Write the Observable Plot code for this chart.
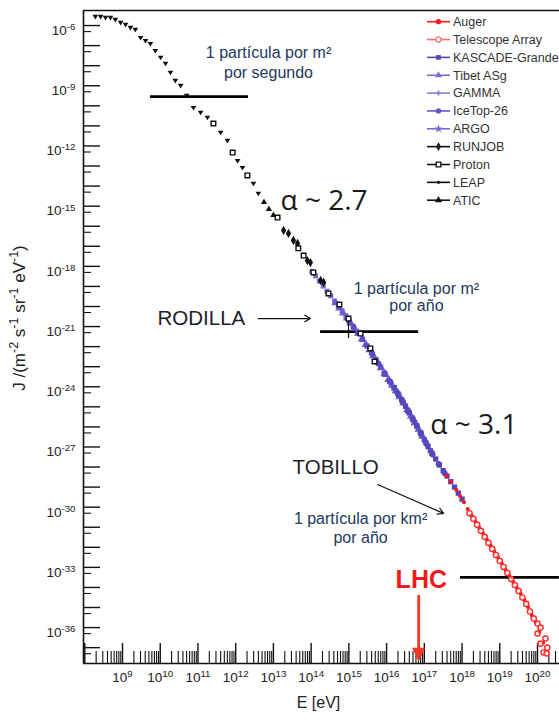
<!DOCTYPE html>
<html><head><meta charset="utf-8">
<script src="https://cdn.jsdelivr.net/npm/d3@7"></script>
<script src="https://cdn.jsdelivr.net/npm/@observablehq/plot@0.6"></script>
<style>
html,body{margin:0;padding:0;background:#fff;overflow:hidden}
#chart{position:relative;width:559px;height:721px}
svg{display:block}
</style></head><body><div id="chart"></div>
<script>
// ---- data (log10 of E [eV] and log10 of J) ----
const leapE = [8.28,8.42,8.55,8.68,8.81,8.95,9.08,9.21,9.34,9.48,9.61,9.74,9.87,10.01,10.14,10.27,10.40,10.54,10.70,10.88,11.07,11.25,11.41,11.60,11.78,11.92,12.05,12.18,12.31,12.47,12.60];
const leapJ = [-5.55,-5.55,-5.60,-5.60,-5.70,-5.85,-5.95,-6.10,-6.20,-6.60,-6.75,-6.90,-7.25,-7.59,-7.89,-8.34,-8.74,-8.99,-9.49,-10.09,-10.33,-10.58,-10.88,-11.33,-11.73,-12.33,-12.73,-13.08,-13.47,-13.87,-14.37];
const aticE = [12.75,12.88,13.00];
const aticJ = [-14.80,-15.15,-15.45];
const runjobE = [13.27,13.40,13.53,13.64,13.90,13.98,14.25,14.33];
const runjobJ = [-16.21,-16.36,-16.71,-16.86,-17.71,-17.81,-18.70,-18.80];
const protonE = [11.41,11.92,12.31,13.11,13.66,13.80,14.06,14.46,14.75,14.99,15.31,15.57,15.68];
const protonJ = [-10.88,-12.33,-13.47,-15.57,-17.10,-17.46,-18.30,-19.35,-19.90,-20.60,-21.35,-22.09,-22.74];
const protonErrE = [14.99];
const protonErrLo = [-21.60];
const protonErrHi = [-20.50];
const argoE = [14.02,14.12,14.22,14.32,14.42,14.52,14.62,14.72,14.82,14.92];
const argoJ = [-18.25,-18.48,-18.74,-18.98,-19.24,-19.47,-19.73,-19.98,-20.22,-20.47];
const tibetE = [14.65,14.75,14.85,14.95,15.05,15.15,15.25,15.35,15.45,15.55,15.65,15.75,15.85,15.95,16.05,16.15,16.25,16.35,16.45,16.55,16.65,16.75,16.85,16.95];
const tibetJ = [-19.82,-20.08,-20.33,-20.58,-20.83,-21.08,-21.33,-21.62,-21.89,-22.16,-22.45,-22.75,-23.05,-23.35,-23.64,-23.92,-24.20,-24.50,-24.81,-25.14,-25.46,-25.79,-26.12,-26.47];
const gammaE = [15.00,15.12,15.24,15.36,15.48,15.60,15.72,15.84,15.96,16.08,16.20,16.32,16.44,16.56,16.68,16.80,16.92,17.04,17.16];
const gammaJ = [-20.72,-21.02,-21.32,-21.64,-21.97,-22.30,-22.66,-23.02,-23.38,-23.73,-24.06,-24.42,-24.78,-25.17,-25.56,-25.95,-26.36,-26.77,-27.18];
const icetopE = [15.62,15.78,15.94,16.10,16.26,16.42,16.58,16.74,16.90,17.06,17.22,17.38,17.54];
const icetopJ = [-22.36,-22.84,-23.32,-23.78,-24.23,-24.71,-25.24,-25.76,-26.29,-26.85,-27.37,-27.85,-28.31];
const kascadeE = [16.20,16.30,16.40,16.50,16.60,16.70,16.80,16.90,17.00,17.10,17.20,17.30,17.40,17.50,17.60,17.70,17.80,17.90,18.00];
const kascadeJ = [-24.05,-24.35,-24.65,-24.97,-25.30,-25.63,-25.95,-26.30,-26.65,-26.98,-27.30,-27.60,-27.90,-28.18,-28.45,-28.73,-29.00,-29.30,-29.60];
const augerE = [17.60,17.70,17.85,17.95,18.05,18.15,18.25,18.35,18.45,18.55,18.65,18.75,18.85,18.95,19.05,19.15,19.25,19.35,19.45,19.55,19.65,19.75,19.85,19.95,20.05,20.15];
const augerJ = [-28.45,-28.73,-29.15,-29.45,-29.76,-30.09,-30.40,-30.70,-31.00,-31.30,-31.60,-31.90,-32.20,-32.50,-32.80,-33.10,-33.40,-33.70,-34.00,-34.30,-34.62,-34.98,-35.38,-35.72,-36.22,-36.75];
const taE = [18.20,18.30,18.40,18.50,18.60,18.70,18.80,18.90,19.00,19.10,19.20,19.30,19.40,19.50,19.60,19.70,19.80,19.90,20.00,20.08,20.00,20.21,20.08,20.26,20.16,20.24];
const taJ = [-30.30,-30.58,-30.88,-31.18,-31.48,-31.78,-32.08,-32.38,-32.68,-32.98,-33.28,-33.58,-33.88,-34.18,-34.50,-34.82,-35.20,-35.55,-35.80,-36.00,-36.30,-36.55,-36.80,-37.00,-37.24,-37.29];

// reference lines (log E from/to, log J)
const barE1 = [9.74, 14.25, 17.96];
const barE2 = [12.34, 16.85, 20.58];
const barJ  = [-9.54, -21.25, -33.50];

// annotation texts
const noteTexts = ["1 partícula por m²", "por segundo", "1 partícula por m²", "por año", "1 partícula por km²", "por año"];
const noteE = [12.87, 12.87, 16.79, 16.79, 15.31, 15.31];
const noteJ = [-7.35, -8.34, -19.10, -19.95, -30.56, -31.51];
const labelTexts = ["RODILLA", "TOBILLO"];
const labelE = [11.09, 14.65];
const labelJ = [-20.60, -28.02];
const alphaTexts = ["α ~ 2.7", "α ~ 3.1"];
const alphaE = [13.19, 17.16];
const alphaJ = [-14.72, -25.93];
const lhcText = ["LHC"];
const lhcE = [16.92];
const lhcJ = [-33.65];
const arrowE1 = [12.60, 15.76];
const arrowE2 = [13.98, 17.51];
const arrowJ1 = [-20.60, -28.87];
const arrowJ2 = [-20.60, -30.31];
const lhcArrowE = [16.85];
const lhcArrowJ1 = [-34.40];
const lhcLineJ2 = [-37.05];
const lhcArrowJ2 = [-37.70];

// axes
const xDomainLog = [7.966, 20.583];
const yDomainLog = [-37.79, -5.25];
const xMajor = d3.range(8, 21);
const xLabels = d3.range(9, 21);
const yMajor = d3.range(-37, -5);
const yLabels = [-6, -9, -12, -15, -18, -21, -24, -27, -30, -33, -36];

const legendNames = ["Auger","Telescope Array","KASCADE-Grande","Tibet ASg","GAMMA","IceTop-26","ARGO","RUNJOB","Proton","LEAP","ATIC"];
const legendColors = ["#ff1a1a","#ff6a6a","#5546b8","#7d70d2","#8a80d8","#6454c8","#7a6ad4","#111","#111","#111","#111"];
const legendSymbols = ["circle","circleOpen","square","triangle","plus","circle","star","diamond","squareOpen","dot","triangle"];

// ---- helpers ----
const pts = (e, j) => e.map((v, i) => ({x: 10 ** v, y: 10 ** j[i]}));
const triDown = {draw(ctx, size) {
  const s = Math.sqrt(size) * 0.62;
  ctx.moveTo(-s, -s * 0.6); ctx.lineTo(s, -s * 0.6); ctx.lineTo(0, s * 1.0); ctx.closePath();
}};
const headDown = {draw(ctx) {
  ctx.moveTo(-6.5, -14); ctx.lineTo(6.5, -14); ctx.lineTo(0, 0); ctx.closePath();
}};

const xMinor = [];
for (let n = 7; n <= 20; n++) for (let k = 2; k <= 9; k++) {
  const v = Math.log10(k) + n;
  if (v > xDomainLog[0] && v < xDomainLog[1]) xMinor.push(v);
}
const yMinor = yMajor.map(n => n - 0.301).filter(v => v > yDomainLog[0]);

const W = 559, H = 721, mT = 10, mB = 58, mL = 83, mR = 0;
const pw = W - mL - mR, ph = H - mT - mB;
const font = "Liberation Sans, Arial, sans-serif";

const chart = Plot.plot({
  width: W, height: H,
  marginTop: mT, marginBottom: mB, marginLeft: mL, marginRight: mR,
  style: {fontFamily: font, background: "#fff"},
  x: {type: "log", domain: xDomainLog.map(v => 10 ** v), axis: null},
  y: {type: "log", domain: yDomainLog.map(v => 10 ** v), axis: null},
  marks: [
    // frame (left, top, bottom)
    Plot.ruleX([10 ** xDomainLog[0]], {stroke: "#111", strokeWidth: 1.6}),
    Plot.ruleY([10 ** yDomainLog[1]], {stroke: "#111", strokeWidth: 1.6}),
    Plot.ruleY([10 ** yDomainLog[0]], {stroke: "#111", strokeWidth: 1.6}),
    // inward ticks
    Plot.tickX(xMajor, {x: d => 10 ** d, insetTop: ph - 20, stroke: "#111", strokeWidth: 1.4}),
    Plot.tickX(xMinor, {x: d => 10 ** d, insetTop: ph - 12, stroke: "#111", strokeWidth: 1.1}),
    Plot.tickY(yMajor, {y: d => 10 ** d, insetRight: pw - 17, stroke: "#111", strokeWidth: 1.4}),
    Plot.tickY(yMinor, {y: d => 10 ** d, insetRight: pw - 8, stroke: "#111", strokeWidth: 1.1}),
    // tick labels
    Plot.text(xLabels, {x: d => 10 ** d, frameAnchor: "bottom", dy: 18, text: d => "10^" + d, fontSize: 13.5, fill: "#222"}),
    Plot.text(yLabels, {y: d => 10 ** d, frameAnchor: "left", dx: -8, dy: 5, textAnchor: "end", text: d => "10^" + d, fontSize: 13.5, fill: "#222"}),
    Plot.text(["E [eV]"], {frameAnchor: "bottom", dy: 44, dx: -3, fontSize: 16, fill: "#222"}),
    // reference bars
    Plot.ruleY(barJ, {y: d => 10 ** d, x1: (d, i) => 10 ** barE1[i], x2: (d, i) => 10 ** barE2[i], stroke: "#000", strokeWidth: 2.6}),
    // data
    Plot.dot(pts(leapE, leapJ), {x: "x", y: "y", symbol: triDown, r: 2.6, fill: "#111", stroke: "none"}),
    Plot.dot(pts(aticE, aticJ), {x: "x", y: "y", symbol: "triangle", r: 2.3, fill: "#111", stroke: "none"}),
    Plot.dot(pts(argoE, argoJ), {x: "x", y: "y", symbol: "square", r: 2.8, fill: "#7a6ad4", stroke: "none"}),
    Plot.dot(pts(tibetE, tibetJ), {x: "x", y: "y", symbol: "triangle", r: 3.2, fill: "#6b5ecf", stroke: "none"}),
    Plot.dot(pts(gammaE, gammaJ), {x: "x", y: "y", symbol: "square", r: 3.0, fill: "#5b4ec6", stroke: "none"}),
    Plot.dot(pts(icetopE, icetopJ), {x: "x", y: "y", symbol: "circle", r: 3.0, fill: "#5a4cc4", stroke: "none"}),
    Plot.dot(pts(kascadeE, kascadeJ), {x: "x", y: "y", symbol: "square", r: 3.0, fill: "#5546b8", stroke: "none"}),
    Plot.dot(pts(runjobE, runjobJ), {x: "x", y: "y", symbol: "diamond", r: 2.8, fill: "#111", stroke: "none"}),
    Plot.ruleX(protonErrE, {x: d => 10 ** d, y1: (d, i) => 10 ** protonErrLo[i], y2: (d, i) => 10 ** protonErrHi[i], stroke: "#111", strokeWidth: 1.2}),
    Plot.dot(pts(protonE, protonJ), {x: "x", y: "y", symbol: "square", r: 2.6, fill: "#fff", stroke: "#111", strokeWidth: 1.4}),
    Plot.dot(pts(augerE, augerJ), {x: "x", y: "y", symbol: "circle", r: 2.0, fill: "#ff1010", stroke: "none"}),
    Plot.dot(pts(taE, taJ), {x: "x", y: "y", symbol: "circle", r: 2.6, fill: "#fff", fillOpacity: 0.6, stroke: "#ff2a2a", strokeWidth: 1.4}),
    // annotations
    Plot.text(noteTexts, {x: (d, i) => 10 ** noteE[i], y: (d, i) => 10 ** noteJ[i], text: d => d, fontSize: 16, fill: "#23395d"}),
    Plot.text(labelTexts, {x: (d, i) => 10 ** labelE[i], y: (d, i) => 10 ** labelJ[i], text: d => d, fontSize: 20.5, fill: "#1e1e2a"}),
    Plot.text(alphaTexts, {x: (d, i) => 10 ** alphaE[i], y: (d, i) => 10 ** alphaJ[i], text: d => d, textAnchor: "start", fontSize: 28, fill: "#1a1a1a", fontFamily: "Open Sans, sans-serif"}),
    Plot.text(lhcText, {x: (d, i) => 10 ** lhcE[i], y: (d, i) => 10 ** lhcJ[i], text: d => d, fontSize: 25, fontWeight: "bold", fill: "#ee1c1c"}),
    Plot.arrow(arrowE1, {x1: d => 10 ** d, x2: (d, i) => 10 ** arrowE2[i], y1: (d, i) => 10 ** arrowJ1[i], y2: (d, i) => 10 ** arrowJ2[i], stroke: "#111", strokeWidth: 1.2, headLength: 8}),
    Plot.ruleX(lhcArrowE, {x: d => 10 ** d, y1: (d, i) => 10 ** lhcArrowJ1[i], y2: (d, i) => 10 ** lhcLineJ2[i], stroke: "#ee3a24", strokeWidth: 2.8}),
    Plot.dot(lhcArrowE, {x: d => 10 ** d, y: (d, i) => 10 ** lhcArrowJ2[i], symbol: headDown, r: 5, fill: "#ee3a24", stroke: "none"})
  ]
});

document.getElementById("chart").appendChild(chart);
const svg = d3.select(chart);

// superscripts for "10^n" labels
svg.selectAll("text").each(function () {
  const t = this.textContent;
  const m = t.match(/^(.*?)\^(.*)$/);
  if (!m) return;
  const el = d3.select(this);
  el.text(null);
  el.append("tspan").text(m[1]);
  el.append("tspan").attr("dy", "-0.5em").attr("font-size", "0.72em").text(m[2]);
});

// y axis title
const yl = svg.append("text")
  .attr("transform", "translate(25,318) rotate(-90)")
  .attr("text-anchor", "middle")
  .attr("font-family", font).attr("font-size", 17).attr("fill", "#222");
const parts = [["J /(m", false], ["-2", true], [" s", false], ["-1", true], [" sr", false], ["-1", true], [" eV", false], ["-1", true], [")", false]];
parts.forEach(([s, sup], i) => {
  const ts = yl.append("tspan").text(s);
  if (sup) ts.attr("dy", -7).attr("font-size", 12.5);
  else if (i > 0) ts.attr("dy", 7);
});

// legend
const lg = svg.append("g").attr("font-family", font).attr("font-size", 12.5).attr("text-anchor", "start");
legendNames.forEach((name, i) => {
  const y = 21.7 + i * 17.85;
  const c = legendColors[i];
  lg.append("line").attr("x1", 427).attr("x2", 450).attr("y1", y).attr("y2", y).attr("stroke", c).attr("stroke-width", 1.6);
  const s = legendSymbols[i];
  const map = {circle: d3.symbolCircle, circleOpen: d3.symbolCircle, square: d3.symbolSquare, squareOpen: d3.symbolSquare, triangle: d3.symbolTriangle, plus: d3.symbolCross, star: d3.symbolStar, diamond: d3.symbolDiamond, dot: d3.symbolCircle};
  const size = s === "dot" ? 8 : s === "plus" ? 14 : 22;
  const p = lg.append("path").attr("d", d3.symbol(map[s], size)()).attr("transform", `translate(438.5,${y})`);
  if (s.endsWith("Open")) p.attr("fill", "#fff").attr("stroke", c).attr("stroke-width", 1.3);
  else p.attr("fill", c);
  lg.append("text").attr("x", 453).attr("y", y + 4.3).attr("text-anchor", "start").attr("fill", "#333").text(name);
});
</script></body></html>
